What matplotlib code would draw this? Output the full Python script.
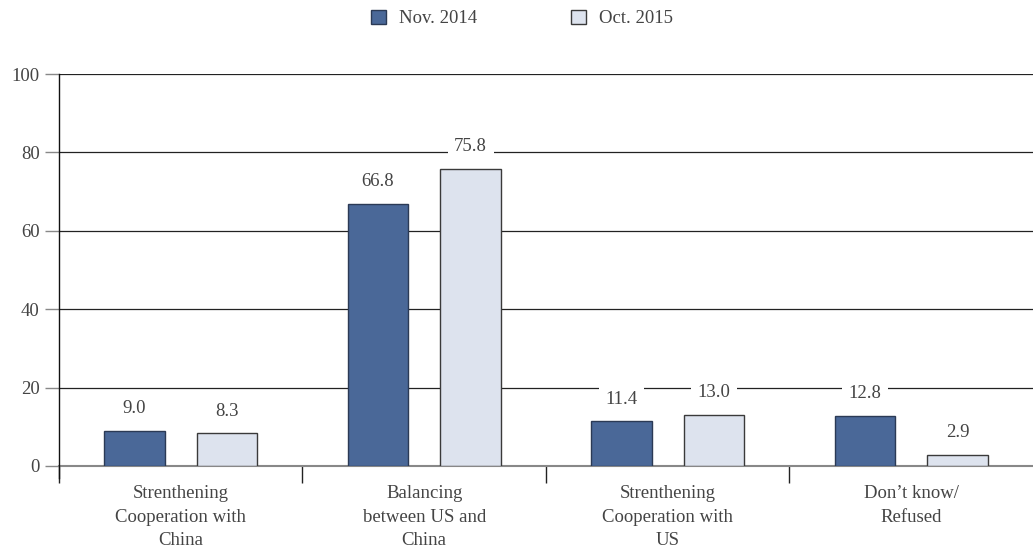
import matplotlib.pyplot as plt
import numpy as np

plt.rcParams['font.family'] = ['Liberation Serif', 'DejaVu Serif']

# Survey responses (%)
categories = ['Strenthening\nCooperation with\nChina',
              'Balancing\nbetween US and\nChina',
              'Strenthening\nCooperation with\nUS',
              'Don\u2019t know/\nRefused']
nov_2014 = [9.0, 66.8, 11.4, 12.8]
oct_2015 = [8.3, 75.8, 13.0, 2.9]
series_names = ['Nov. 2014', 'Oct. 2015']

text_color = '#444444'
dark_blue = '#4a6898'
light_blue = '#dde3ee'
fs = 13.5

fig = plt.figure(figsize=(10.33, 5.59), dpi=100)
ax = fig.add_axes([0.0571, 0.1664, 0.9429, 0.7012])

x = np.arange(len(categories))
width = 0.25
offset = 0.19

bars1 = ax.bar(x - offset, nov_2014, width, color=dark_blue, edgecolor='#2b3a55',
               linewidth=1.0, label=series_names[0], zorder=3)
bars2 = ax.bar(x + offset, oct_2015, width, color=light_blue, edgecolor='#3a3a3a',
               linewidth=1.0, label=series_names[1], zorder=3)

# value labels with white backing so they cut through the gridlines
for bars in (bars1, bars2):
    for b in bars:
        h = b.get_height()
        ax.annotate(f'{h:.1f}', xy=(b.get_x() + b.get_width() / 2, h),
                    xytext=(0, 16), textcoords='offset points',
                    ha='center', va='center', fontsize=fs, color=text_color,
                    bbox=dict(boxstyle='square,pad=0.35', fc='white', ec='none'),
                    zorder=4)

ax.set_xlim(-0.5, 3.5)
ax.set_ylim(0, 100)
ax.set_yticks([0, 20, 40, 60, 80, 100])
ax.tick_params(axis='y', length=10, width=1, color='#888888', labelsize=fs,
               labelcolor=text_color, pad=4)

# category boundaries as ticks, labels centred in each category
ax.set_xticks([-0.5, 0.5, 1.5, 2.5])
ax.set_xticklabels([])
ax.set_xticks(x, minor=True)
ax.set_xticklabels(categories, minor=True, fontsize=fs, color=text_color,
                   linespacing=1.47)
ax.tick_params(axis='x', which='major', length=12, width=1, color='#222222')
ax.tick_params(axis='x', which='minor', length=0, pad=14)

for yv in [20, 40, 60, 80, 100]:
    ax.axhline(yv, color='#222222', linewidth=0.9, zorder=1)

for side in ['top', 'right']:
    ax.spines[side].set_visible(False)
ax.spines['bottom'].set_color('#888888')
ax.spines['bottom'].set_linewidth(1.5)
ax.spines['bottom'].set_zorder(2)
ax.spines['left'].set_color('#111111')
ax.spines['left'].set_linewidth(1.0)
ax.spines['left'].set_bounds(-3, 100)
ax.spines['left'].set_clip_on(False)

leg = fig.legend(handles=[bars1, bars2], labels=series_names, loc='upper center',
                 bbox_to_anchor=(0.505, 1.013), ncol=2, frameon=False,
                 fontsize=fs, handlelength=0.8, handleheight=0.8,
                 columnspacing=5.0, handletextpad=0.7)
for t in leg.get_texts():
    t.set_color(text_color)

fig.savefig('out.png', dpi=100)
